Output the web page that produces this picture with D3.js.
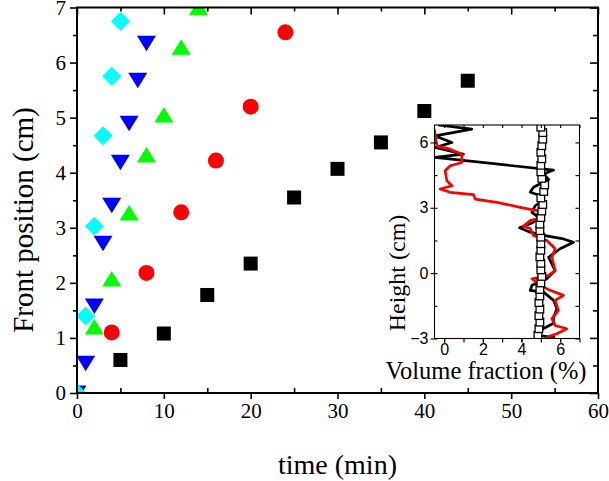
<!DOCTYPE html>
<html>
<head>
<meta charset="utf-8">
<script src="https://cdn.jsdelivr.net/npm/d3@7"></script>
<style>
body { margin: 0; background: #fff; }
</style>
</head>
<body>
<div id="chart"></div>
<script>
// front position (cm) vs time (min), one pair of arrays per series
var sqTime = [5, 10, 15, 20, 25, 30, 35, 40, 45];
var sqPos = [0.6, 1.08, 1.78, 2.35, 3.55, 4.07, 4.55, 5.12, 5.67];
var circTime = [4, 8, 12, 16, 20, 24];
var circPos = [1.1, 2.18, 3.28, 4.22, 5.2, 6.55];
var upTime = [2, 4, 6, 8, 10, 12, 14];
var upPos = [1.2, 2.07, 3.27, 4.32, 5.05, 6.28, 7.0];
var downTime = [0, 1, 2, 3, 4, 5, 6, 7, 8];
var downPos = [0, 0.54, 1.58, 2.72, 3.41, 4.19, 4.9, 5.68, 6.35];
var diaTime = [0, 1, 2, 3, 4, 5];
var diaPos = [0, 1.4, 3.03, 4.67, 5.75, 6.75];

var xTicks = [0, 10, 20, 30, 40, 50, 60];
var yTicks = [0, 1, 2, 3, 4, 5, 6, 7];

// inset: height (cm) vs volume fraction (%)
var blackFrac = [-0.3, 1.43, -0.47, 0.4, -0.47, 1.0, -0.47, 5.66, 5.14, 5.4, 4.62, 4.45, 4.97, 5.17, 4.71, 4.54, 4.88, 4.6, 3.9, 4.45, 5.14, 6.17, 6.69, 6.0, 5.4, 5.74, 5.31, 4.54, 4.45, 5.14, 5.66, 5.83, 5.66, 5.66, 4.97, 4.8, 5.74];
var blackH = [6.8, 6.61, 6.3, 6.0, 5.77, 5.46, 5.31, 4.73, 4.55, 4.3, 3.94, 3.71, 3.56, 3.33, 3.1, 2.79, 2.56, 2.33, 2.08, 1.88, 1.73, 1.57, 1.42, 1.12, 0.73, 0.12, -0.26, -0.56, -0.79, -0.87, -1.25, -1.63, -2.01, -2.3, -2.62, -2.85, -2.96];
var redFrac = [-0.5, -0.38, 0.31, 0.91, 0.91, 0.31, 0.05, 0.14, 0.4, -0.21, 0.31, 1.52, 1.6, 2.73, 3.93, 4.8, 5.14, 4.8, 4.45, 4.1, 4.45, 4.62, 5.31, 5.74, 5.57, 5.74, 5.4, 4.54, 4.97, 5.48, 6.17, 5.74, 5.91, 5.57, 5.74, 6.34, 5.83, 5.31];
var redH = [6.6, 5.84, 5.69, 5.46, 5.08, 4.93, 4.7, 4.24, 4.01, 3.86, 3.71, 3.6, 3.4, 3.25, 3.02, 2.87, 2.72, 2.49, 2.41, 2.15, 2.05, 1.73, 1.5, 1.12, 0.73, 0.12, -0.1, -0.26, -0.56, -0.79, -1.02, -1.25, -1.71, -2.09, -2.4, -2.55, -2.78, -2.93];
var boxFrac = [4.85, 4.9, 4.95, 4.9, 4.95, 4.9, 4.95, 4.95, 5.0, 5.05, 5.0, 5.0, 4.95, 5.0, 5.0, 5.0, 4.95, 4.95, 5.0, 5.05, 5.1, 5.0, 5.15, 5.2, 5.05, 5.0, 5.0, 5.05, 5.0, 5.05, 5.1, 5.1, 5.0];
var boxH = [-2.85, -2.55, -2.25, -1.95, -1.65, -1.35, -1.05, -0.75, -0.45, -0.15, 0.15, 0.45, 0.75, 1.05, 1.35, 1.65, 1.95, 2.25, 2.55, 2.85, 3.15, 3.45, 3.75, 4.05, 4.35, 4.65, 4.95, 5.25, 5.55, 5.85, 6.15, 6.45, 6.7];
var insetXTicks = [0, 2, 4, 6];
var insetYTicks = [-3, 0, 3, 6];

var W = 609, H = 481;
var svg = d3.select("#chart").append("svg")
    .attr("width", W)
    .attr("height", H);

var x = d3.scaleLinear().domain([0, 60]).range([77, 598]);
var y = d3.scaleLinear().domain([0, 7]).range([393, 7.5]);

var serif = "'Liberation Serif', 'Times New Roman', serif";
var sans = "'Liberation Sans', Arial, sans-serif";
var fmt = d3.format("d");

svg.append("clipPath").attr("id", "mainclip")
  .append("rect")
    .attr("x", x(0)).attr("y", y(7))
    .attr("width", x(60) - x(0)).attr("height", y(0) - y(7));

var marks = svg.append("g").attr("clip-path", "url(#mainclip)");

function pairs(a, b) { return a.map(function(v, i) { return [v, b[i]]; }); }

// squares
marks.selectAll(".sq").data(pairs(sqTime, sqPos)).enter().append("rect")
  .attr("x", function(d) { return x(d[0]) - 7; })
  .attr("y", function(d) { return y(d[1]) - 7; })
  .attr("width", 14).attr("height", 14)
  .attr("fill", "#000");

// circles
marks.selectAll(".ci").data(pairs(circTime, circPos)).enter().append("circle")
  .attr("cx", function(d) { return x(d[0]); })
  .attr("cy", function(d) { return y(d[1]); })
  .attr("r", 8)
  .attr("fill", "#ff0000");

// up triangles
marks.selectAll(".up").data(pairs(upTime, upPos)).enter().append("path")
  .attr("d", "M0,-8L9.5,7.5L-9.5,7.5Z")
  .attr("transform", function(d) { return "translate(" + x(d[0]) + "," + y(d[1]) + ")"; })
  .attr("fill", "#00ff00");

// down triangles
marks.selectAll(".dn").data(pairs(downTime, downPos)).enter().append("path")
  .attr("d", "M0,8L9.5,-7.5L-9.5,-7.5Z")
  .attr("transform", function(d) { return "translate(" + x(d[0]) + "," + y(d[1]) + ")"; })
  .attr("fill", "#0000ff");

// diamonds
marks.selectAll(".di").data(pairs(diaTime, diaPos)).enter().append("path")
  .attr("d", "M0,-9.5L9.5,0L0,9.5L-9.5,0Z")
  .attr("transform", function(d) { return "translate(" + x(d[0]) + "," + y(d[1]) + ")"; })
  .attr("fill", "#00ffff");

// ---- main axes ----
function styleAxis(g) {
  g.selectAll(".domain").remove();
  g.selectAll("line").attr("stroke", "#000").attr("stroke-width", 1.6);
}
var minorX = d3.range(5, 60, 10);
var minorY = d3.range(0.5, 7, 1);

// bottom: major outward with labels, minor inward
svg.append("g").attr("transform", "translate(0," + y(0) + ")")
  .call(d3.axisBottom(x).tickValues(xTicks).tickSize(6).tickPadding(4).tickFormat(fmt))
  .call(styleAxis)
  .selectAll("text").attr("font-family", serif).attr("font-size", "21px").attr("fill", "#000");
svg.append("g").attr("transform", "translate(0," + y(0) + ")")
  .call(d3.axisTop(x).tickValues(minorX).tickSize(5).tickFormat(""))
  .call(styleAxis);

// left: outward ticks
svg.append("g").attr("transform", "translate(" + x(0) + ",0)")
  .call(d3.axisLeft(y).tickValues(yTicks).tickSize(7).tickPadding(4).tickFormat(fmt))
  .call(styleAxis)
  .selectAll("text").attr("font-family", serif).attr("font-size", "21px").attr("fill", "#000");
svg.append("g").attr("transform", "translate(" + x(0) + ",0)")
  .call(d3.axisLeft(y).tickValues(minorY).tickSize(4).tickFormat(""))
  .call(styleAxis);

// top: inward ticks
svg.append("g").attr("transform", "translate(0," + y(7) + ")")
  .call(d3.axisBottom(x).tickValues(xTicks).tickSize(7).tickFormat(""))
  .call(styleAxis);
svg.append("g").attr("transform", "translate(0," + y(7) + ")")
  .call(d3.axisBottom(x).tickValues(minorX).tickSize(4).tickFormat(""))
  .call(styleAxis);

// right: inward ticks
svg.append("g").attr("transform", "translate(" + x(60) + ",0)")
  .call(d3.axisLeft(y).tickValues(yTicks).tickSize(8).tickFormat(""))
  .call(styleAxis);
svg.append("g").attr("transform", "translate(" + x(60) + ",0)")
  .call(d3.axisLeft(y).tickValues(minorY).tickSize(5).tickFormat(""))
  .call(styleAxis);

svg.append("rect")
  .attr("x", x(0)).attr("y", y(7))
  .attr("width", x(60) - x(0)).attr("height", y(0) - y(7))
  .attr("fill", "none").attr("stroke", "#000").attr("stroke-width", 2);

svg.append("text")
  .attr("x", (x(0) + x(60)) / 2)
  .attr("y", 474)
  .attr("text-anchor", "middle")
  .attr("font-family", serif).attr("font-size", "28px")
  .text("time (min)");

svg.append("text")
  .attr("transform", "translate(33," + 220 + ") rotate(-90)")
  .attr("text-anchor", "middle")
  .attr("font-family", serif).attr("font-size", "29px")
  .text("Front position (cm)");

// ---- inset ----
var ix = d3.scaleLinear().domain([-0.5, 7]).range([434.5, 579.5]);
var iy = d3.scaleLinear().domain([-3, 6.8]).range([338.5, 125]);

svg.append("rect")
  .attr("x", ix(-0.5)).attr("y", iy(6.8))
  .attr("width", ix(7) - ix(-0.5)).attr("height", iy(-3) - iy(6.8))
  .attr("fill", "#fff");

svg.append("clipPath").attr("id", "insetclip")
  .append("rect")
    .attr("x", ix(-0.5)).attr("y", iy(6.8))
    .attr("width", ix(7) - ix(-0.5)).attr("height", iy(-3) - iy(6.8));

var ig = svg.append("g").attr("clip-path", "url(#insetclip)");

var line = d3.line()
  .x(function(d) { return ix(d[0]); })
  .y(function(d) { return iy(d[1]); });

ig.append("path")
  .datum(pairs(blackFrac, blackH))
  .attr("d", line)
  .attr("fill", "none").attr("stroke", "#000").attr("stroke-width", 2.7)
  .attr("stroke-linejoin", "round");

ig.append("path")
  .datum(pairs(redFrac, redH))
  .attr("d", line)
  .attr("fill", "none").attr("stroke", "#ff0000").attr("stroke-width", 2.7)
  .attr("stroke-linejoin", "round");

ig.selectAll(".box").data(pairs(boxFrac, boxH)).enter().append("rect")
  .attr("x", function(d) { return ix(d[0]) - 3.8; })
  .attr("y", function(d) { return iy(d[1]) - 3.8; })
  .attr("width", 7.6).attr("height", 7.6)
  .attr("fill", "#fff").attr("stroke", "#000").attr("stroke-width", 1.3);

function styleInset(g) {
  g.selectAll(".domain").remove();
  g.selectAll("line").attr("stroke", "#000").attr("stroke-width", 1.1);
}
var iMinorX = d3.range(0, 7.5, 1);
var iMinorY = d3.range(-3, 7, 1.5);

svg.append("g").attr("transform", "translate(0," + iy(-3) + ")")
  .call(d3.axisBottom(ix).tickValues(iMinorX).tickSize(4).tickFormat(""))
  .call(styleInset);
svg.append("g").attr("transform", "translate(0," + iy(-3) + ")")
  .call(d3.axisBottom(ix).tickValues(insetXTicks).tickSize(4).tickPadding(1).tickFormat(fmt))
  .call(styleInset)
  .selectAll("text").attr("font-family", sans).attr("font-size", "16px").attr("fill", "#000");

svg.append("g").attr("transform", "translate(" + ix(-0.5) + ",0)")
  .call(d3.axisLeft(iy).tickValues(insetYTicks).tickSize(4).tickPadding(2).tickFormat(fmt))
  .call(styleInset)
  .selectAll("text").attr("font-family", sans).attr("font-size", "16px").attr("fill", "#000");
svg.append("g").attr("transform", "translate(" + ix(-0.5) + ",0)")
  .call(d3.axisRight(iy).tickValues(iMinorY).tickSize(3).tickFormat(""))
  .call(styleInset);

svg.append("g").attr("transform", "translate(0," + iy(6.8) + ")")
  .call(d3.axisBottom(ix).tickValues(iMinorX).tickSize(3).tickFormat(""))
  .call(styleInset);
svg.append("g").attr("transform", "translate(" + ix(7) + ",0)")
  .call(d3.axisLeft(iy).tickValues(iMinorY).tickSize(4).tickFormat(""))
  .call(styleInset);

svg.append("rect")
  .attr("x", ix(-0.5)).attr("y", iy(6.8))
  .attr("width", ix(7) - ix(-0.5)).attr("height", iy(-3) - iy(6.8))
  .attr("fill", "none").attr("stroke", "#000").attr("stroke-width", 1.1);

svg.append("text")
  .attr("x", 486).attr("y", 379)
  .attr("text-anchor", "middle")
  .attr("font-family", serif).attr("font-size", "24.5px")
  .text("Volume fraction (%)");

svg.append("text")
  .attr("transform", "translate(405,273) rotate(-90)")
  .attr("text-anchor", "middle")
  .attr("font-family", serif).attr("font-size", "24px")
  .text("Height (cm)");
</script>
</body>
</html>
